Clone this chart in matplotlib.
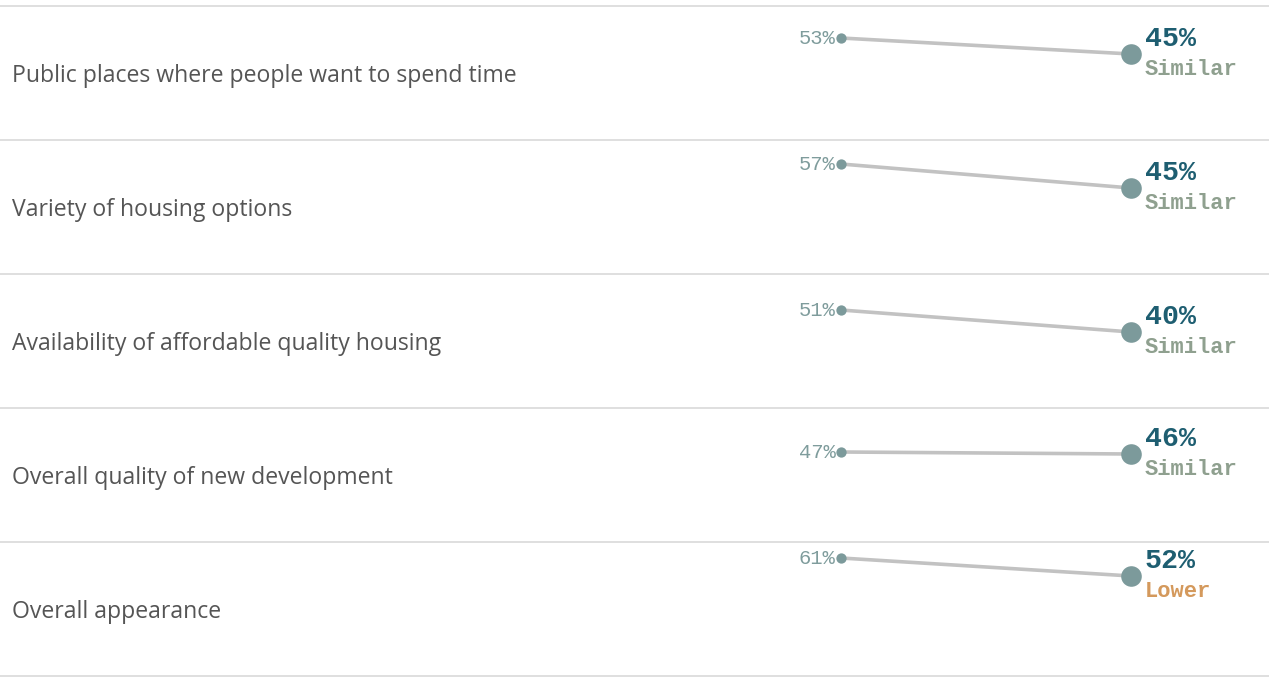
import matplotlib.pyplot as plt

categories = [
    "Public places where people want to spend time",
    "Variety of housing options",
    "Availability of affordable quality housing",
    "Overall quality of new development",
    "Overall appearance",
]
before = [53, 57, 51, 47, 61]
after = [45, 45, 40, 46, 52]
status = ["Similar", "Similar", "Similar", "Similar", "Lower"]

status_colors = {"Similar": "#8fa08f", "Lower": "#d4995c"}
dot_color = "#7c9a9b"
line_color = "#c2c2c2"
sep_color = "#dcdcdc"

W, H = 1269, 677
fig = plt.figure(figsize=(W / 100, H / 100), dpi=100)

row_h = 134
top0 = 6
x0_px, x1_px = 841, 1131
span = x1_px - x0_px

for k, cat in enumerate(categories):
    top = top0 + row_h * k
    ax = fig.add_axes([0, 1 - (top + row_h) / H, 1, row_h / H])
    ax.set_xlim(-x0_px / span, (W - x0_px) / span)
    ax.set_ylim(2, 69)
    ax.set_xticks([])
    ax.set_yticks([])
    for s in ["left", "right", "bottom"]:
        ax.spines[s].set_visible(False)
    ax.spines["top"].set_color(sep_color)
    ax.spines["top"].set_linewidth(1.3)
    if k == len(categories) - 1:
        ax.spines["bottom"].set_visible(True)
        ax.spines["bottom"].set_color(sep_color)
        ax.spines["bottom"].set_linewidth(1.3)
    ax.patch.set_alpha(0)

    ax.text(12 / W, 0.475, cat, transform=ax.transAxes, ha="left", va="center",
            fontsize=16.6, color="#555555", family="Open Sans")

    ax.plot([0, 1], [before[k], after[k]], color=line_color, lw=2.6,
            solid_capstyle="butt", zorder=1)
    ax.scatter([0], [before[k]], s=55, color=dot_color, zorder=3, lw=0)
    ax.scatter([1], [after[k]], s=220, color=dot_color, zorder=3, lw=0)

    ax.annotate(f"{before[k]}%", (0, before[k]), xytext=(-4, 0),
                textcoords="offset points", ha="right", va="center",
                fontsize=14.8, color="#7f9c9c", family="Liberation Mono")
    ax.annotate(f"{after[k]}%", (1, after[k]), xytext=(10, 10.5),
                textcoords="offset points", ha="left", va="center",
                fontsize=20.3, color="#1e5e71", family="Liberation Mono",
                fontweight="bold")
    ax.annotate(status[k], (1, after[k]), xytext=(10, -11),
                textcoords="offset points", ha="left", va="center",
                fontsize=15.9, color=status_colors[status[k]],
                family="Liberation Mono", fontweight="bold")

fig.savefig("out.png", dpi=100, facecolor="white")
